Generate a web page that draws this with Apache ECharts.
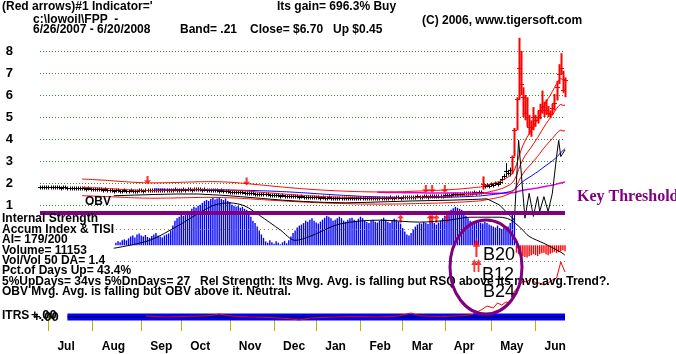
<!DOCTYPE html>
<html><head><meta charset="utf-8">
<script src="https://cdn.jsdelivr.net/npm/echarts@6/dist/echarts.min.js"></script>
<style>html,body{margin:0;padding:0;background:#fff}#c{width:676px;height:354px}</style>
</head><body><div id="c"></div>
<script>
// ---------- data ----------
const monthStarts = [4,25,48,67,90,111,131,152,172,192,214,235];
const monthLabels = ['Jul','Aug','Sep','Oct','Nov','Dec','Jan','Feb','Mar','Apr','May','Jun'];
const priceTicks = [1,2,3,4,5,6,7,8];
const bandWidth = 0.21;

// daily closes 6/26/2007 .. 6/20/2008
const closes = [
 1.83,1.84,1.82,1.83,1.82,1.81,1.82,1.80,1.81,1.80,1.79,1.80,1.81,1.79,1.78,1.79,1.78,1.77,1.78,1.76,1.77,1.76,1.75,1.76,1.74,
 1.73,1.74,1.72,1.71,1.72,1.70,1.71,1.69,1.68,1.66,1.65,1.67,1.66,1.64,1.65,1.66,1.65,1.64,1.66,1.65,1.64,1.65,1.66,
 1.66,1.65,1.67,1.66,1.68,1.67,1.66,1.68,1.69,1.68,1.67,1.68,1.70,1.69,1.68,1.70,1.71,1.70,1.69,
 1.70,1.71,1.70,1.72,1.71,1.70,1.72,1.73,1.72,1.71,1.70,1.71,1.69,1.70,1.68,1.67,1.68,1.66,1.65,1.66,1.64,1.63,1.62,
 1.61,1.60,1.61,1.59,1.58,1.57,1.58,1.56,1.55,1.54,1.55,1.53,1.52,1.51,1.52,1.50,1.49,1.48,1.49,1.47,1.46,
 1.45,1.46,1.44,1.43,1.44,1.42,1.41,1.42,1.40,1.41,1.39,1.40,1.38,1.39,1.38,1.37,1.38,1.36,1.37,1.36,
 1.35,1.36,1.34,1.35,1.33,1.34,1.35,1.33,1.32,1.34,1.33,1.31,1.32,1.33,1.32,1.31,1.33,1.32,1.30,1.31,1.32,
 1.31,1.30,1.32,1.31,1.30,1.31,1.33,1.32,1.31,1.33,1.34,1.32,1.33,1.34,1.35,1.33,1.34,1.35,1.36,1.34,
 1.35,1.37,1.36,1.38,1.37,1.36,1.38,1.39,1.37,1.38,1.40,1.39,1.38,1.40,1.41,1.39,1.40,1.42,1.41,1.43,
 1.44,1.45,1.47,1.46,1.48,1.50,1.49,1.52,1.51,1.53,1.55,1.54,1.56,1.55,1.57,1.56,1.58,1.60,1.95,1.85,1.90,1.88,
 1.95,1.90,2.00,1.95,2.05,2.20,2.30,2.55,2.45,2.60,3.20,4.40,5.80,7.25,6.50,5.90,5.20,5.00,4.55,4.55,5.00,
 4.85,5.00,5.30,5.45,5.30,5.30,5.20,5.15,5.40,5.65,6.35,6.95,7.25,6.25,6.70
];
// daily lows / highs of the last 50 sessions (earlier bars are too small to read)
const recentStart = 200;
const recentLow = [
 1.48,1.50,1.51,1.51,1.52,1.52,1.53,1.53,1.54,1.56,1.70,1.78,1.82,1.80,1.85,1.84,1.90,1.88,1.95,2.10,
 2.20,2.30,2.35,2.30,2.40,3.20,4.40,5.80,6.00,5.00,4.85,4.55,4.20,4.10,4.40,4.55,4.70,4.90,5.15,5.00,
 5.10,5.00,4.95,5.10,5.30,5.75,6.50,6.95,6.10,5.90
];
const recentHigh = [
 1.55,1.57,1.59,1.58,1.60,1.59,1.61,1.60,1.63,1.65,2.30,1.95,1.98,1.96,2.02,1.98,2.06,2.02,2.12,2.30,
 2.42,2.90,2.60,2.70,3.20,4.50,5.90,8.60,8.00,6.35,6.00,5.90,5.10,4.85,5.45,5.10,5.30,5.60,6.20,5.70,
 5.80,5.50,5.30,5.60,6.05,6.65,7.40,7.90,7.10,6.80
];
// OBV line drawn in the price panel: [session, level]
const obvPoints = [
 [35,1.42],[45,1.45],[55,1.48],[65,1.50],[75,1.50],[85,1.45],[95,1.38],[105,1.30],[115,1.22],[125,1.16],
 [135,1.12],[145,1.10],[155,1.12],[165,1.15],[175,1.18],[185,1.20],[195,1.22],[205,1.25],[212,1.28],
 [218,1.00],[222,0.60],[225,0.32],[227,3.94],[230,0.40],[232,1.53],[234,0.48],[236,1.38],[237,0.70],
 [239,1.38],[241,0.70],[243,1.53],[245,3.20],[246,3.94],[247,3.20],[249,3.50]
];
// Accumulation index bars, from session 36
const aiStart = 36;
const aiValues = [
 0.05,0.08,0.06,0.10,0.12,0.10,
 0.14,0.18,0.20,0.16,0.22,0.24,0.20,0.18,0.21,0.17,0.15,0.19,0.22,0.25,0.20,0.18,0.16,0.20,0.22,0.24,
 0.30,0.40,0.50,0.55,
 0.58,0.62,0.60,0.66,0.70,0.68,0.74,0.78,0.76,0.80,0.82,
 0.86,0.90,0.92,0.90,0.94,0.96,0.93,0.95,0.97,0.94,0.92,0.95,0.90,0.88,
 0.82,0.80,0.78,0.80,0.76,0.78,0.74,0.72,
 0.65,0.58,0.50,0.45,0.38,0.30,0.22,
 0.15,0.08,0.05,0.10,0.06,0.03,0.08,0.05,0.02,0.06,0.09,0.04,0.10,
 0.18,0.25,0.30,0.36,0.40,
 0.42,0.45,0.50,0.48,0.52,0.55,0.50,0.46,0.44,0.48,0.52,0.56,0.60,0.58,0.55,0.50,0.52,0.55,0.58,0.55,0.50,0.48,0.52,0.55,
 0.56,0.52,0.50,0.54,0.58,0.55,0.50,0.47,0.45,0.50,0.52,0.48,0.46,0.50,0.53,0.56,0.52,0.48,0.45,0.50,0.54,0.52,0.48,0.44,
 0.35,0.28,0.22,0.20,0.25,0.32,0.38,
 0.42,0.45,0.44,0.47,0.45,0.43,0.46,0.48,0.45,0.42,0.46,0.50,0.55,0.60,0.65,0.70,
 0.72,0.75,0.78,0.76,0.74,0.72,0.65,0.60,0.55,
 0.50,0.48,0.45,0.47,0.50,0.46,0.44,0.48,0.45,0.42,0.40,
 0.38,0.36,0.40,0.35,0.33,0.36,0.34,0.38,0.45,
 0.62,0.55,
 -0.15,-0.18,-0.20,-0.22,-0.24,-0.25,-0.22,-0.20,-0.18,-0.20,-0.22,-0.18,-0.16,-0.15,-0.18,-0.20,-0.17,-0.15,-0.13,-0.16,-0.14,-0.12,-0.10,-0.12
];
const aiThreshold = 0.655;
const aiGuides = [0.33, -0.32];
// TISI line: [session, value]
const tisiPoints = [
 [35,-0.06],[52,0.10],[66,0.41],[76,0.67],[83,0.82],[90,0.86],[97,0.80],[104,0.61],[114,0.31],[121,0.10],
 [128,0.18],[142,0.43],[161,0.51],[180,0.47],[194,0.51],[204,0.57],[218,0.57],[223,0.52],[228,0.35],
 [232,0.18],[239,0.04],[247,-0.14],[249,-0.20]
];
// ITRS line: [session, value]
const itrsStart = 13;
const itrsPoints = [
 [50,0.05],[60,0.00],[70,0.03],[80,0.06],[85,0.15],[90,0.05],[100,0.00],[110,-0.03],[118,-0.08],[123,-0.15],
 [128,-0.05],[140,0.00],[150,0.02],[160,0.00],[170,0.05],[176,0.20],[180,0.06],[190,0.02],[200,0.06],[205,0.12],
 [210,0.40],[212,0.55],[215,0.45],[217,0.70],[219,0.60],[221,0.75],[223,0.70],[225,1.30],[227,1.50],[229,1.80],
 [231,1.75],[233,1.95],[235,1.70],[237,1.70],[239,1.60],[241,1.70],[243,1.85],[245,1.95],[247,2.75],[249,2.25]
];
// signals
const sellSignals = [[51,2.14],[98,2.07],[183,1.73],[186,1.73],[192,1.73]];
const buySignals = [[171,0.54],[185,0.54],[186,0.54],[188,0.54],[193,0.54]];
const bigBuySignals = [[207,3.48]];
const doubleBuySignals = [[206,2.58],[208,2.58]];
const redBarFrom = 224, redBarExtra = [210];

// ---------- derived ----------
const cats = closes.map((_, i) => String(i));
function ma(src, n, first) {
  return src.map((v, i) => {
    if (i < first) return null;
    const s = src.slice(Math.max(0, i - n + 1), i + 1);
    return s.reduce((a, b) => a + b, 0) / s.length;
  });
}
const ma21 = ma(closes, 21, 20);
const upperBand = ma21.map(v => v == null ? null : v * (1 + bandWidth));
const lowerBand = ma21.map(v => v == null ? null : v * (1 - bandWidth));
const ma55 = ma(closes, 55, 54);
const ma200 = ma(closes, 200, 160);
const ohlc = closes.map((c, i) => {
  const r = i - recentStart;
  return [i, r >= 0 ? recentLow[r] : c, r >= 0 ? recentHigh[r] : c, c];
});
const aiFull = closes.map((_, i) => i < aiStart ? null : aiValues[i - aiStart]);
const itrsBase = closes.map((_, i) => i < itrsStart ? null : 0);

const FONT = '"Liberation Sans", Arial, sans-serif';
const ARROW = 'path://M5,0L10,6L6.5,6L6.5,13L3.5,13L3.5,6L0,6Z';

function T(text, x, y, extra) {
  return {type: 'text', z: 50, silent: true,
    style: Object.assign({text: text, x: x, y: y, font: 'bold 12px ' + FONT, fill: '#000', verticalAlign: 'middle'}, extra || {})};
}

const chart = echarts.init(document.getElementById('c'), null, {renderer: 'canvas'});
const lineBase = {type: 'line', showSymbol: false, symbol: 'none', silent: true, clip: false, animation: false};

chart.setOption({
  animation: false,
  backgroundColor: '#fff',
  grid: [
    {left: 40, width: 525, top: 51, height: 154, outerBoundsMode: 'none'},
    {left: 40, width: 525, top: 196, height: 69, outerBoundsMode: 'none'},
    {left: 40, width: 525, top: 247, height: 80, outerBoundsMode: 'none'}
  ],
  xAxis: [
    {gridIndex: 0, type: 'category', data: cats, boundaryGap: false, show: false},
    {gridIndex: 1, type: 'category', data: cats, boundaryGap: false, show: false},
    {gridIndex: 2, type: 'category', data: cats, boundaryGap: false, position: 'bottom', offset: 11,
      axisLine: {show: false},
      axisTick: {show: true, interval: (i) => monthStarts.includes(i), length: 14, lineStyle: {color: '#b5b500', width: 1}},
      axisLabel: {show: true, interval: (i) => monthStarts.includes(i),
        formatter: (v, i) => monthLabels[monthStarts.indexOf(i)] || '',
        align: 'left', padding: [0, 0, 0, 9], margin: 3, fontWeight: 'bold', fontSize: 12, color: '#000', fontFamily: FONT},
      splitLine: {show: false}}
  ],
  yAxis: [
    {gridIndex: 0, type: 'value', min: priceTicks[0], max: priceTicks[priceTicks.length - 1], interval: 1,
      axisLine: {show: false}, axisTick: {show: false},
      axisLabel: {margin: 27, fontWeight: 'bold', fontSize: 13, color: '#000', fontFamily: FONT},
      splitLine: {show: true, lineStyle: {color: '#2f8f2f', type: [1, 2], width: 1}}},
    {gridIndex: 1, type: 'value', min: -0.4, max: 1.0, show: false, splitLine: {show: false}},
    {gridIndex: 2, type: 'value', min: -0.5, max: 3.5, show: false, splitLine: {show: false}}
  ],
  series: [
    // price panel
    Object.assign({}, lineBase, {name: 'ma200', xAxisIndex: 0, yAxisIndex: 0, data: ma200, lineStyle: {color: '#e000e0', width: 1.5}}),
    Object.assign({}, lineBase, {name: 'ma55', xAxisIndex: 0, yAxisIndex: 0, data: ma55, lineStyle: {color: '#0000ff', width: 1}}),
    Object.assign({}, lineBase, {name: 'upper', xAxisIndex: 0, yAxisIndex: 0, data: upperBand, lineStyle: {color: '#ff0000', width: 1}}),
    Object.assign({}, lineBase, {name: 'ma21', xAxisIndex: 0, yAxisIndex: 0, data: ma21, lineStyle: {color: '#ff0000', width: 1}}),
    Object.assign({}, lineBase, {name: 'lower', xAxisIndex: 0, yAxisIndex: 0, data: lowerBand, lineStyle: {color: '#ff0000', width: 1}}),
    Object.assign({}, lineBase, {name: 'obv', xAxisIndex: 0, yAxisIndex: 0, data: obvPoints, lineStyle: {color: '#000', width: 1}}),
    {type: 'custom', name: 'price', xAxisIndex: 0, yAxisIndex: 0, silent: true, clip: false,
      encode: {x: 0, y: [1, 2, 3]}, data: ohlc,
      renderItem: function (params, api) {
        const i = api.value(0), lo = api.value(1), hi = api.value(2), c = api.value(3);
        const pLo = api.coord([i, lo]), pHi = api.coord([i, hi]), pC = api.coord([i, c]);
        const red = i >= redBarFrom || redBarExtra.includes(i);
        const color = red ? '#ff0000' : '#000000';
        const x = Math.round(pC[0]) + 0.5;
        const cy = Math.round(pC[1]) + 0.5;
        const top = Math.min(pHi[1], cy - 2), bot = Math.max(pLo[1], cy + 2);
        return {type: 'group', children: [
          {type: 'line', shape: {x1: x, y1: top, x2: x, y2: bot}, style: {stroke: color, lineWidth: red ? 2 : 1}},
          {type: 'line', shape: {x1: x - 2.5, y1: cy, x2: x + 2.5, y2: cy}, style: {stroke: color, lineWidth: 1}}
        ]};
      }},
    {type: 'scatter', name: 'sell', xAxisIndex: 0, yAxisIndex: 0, silent: true, clip: false, data: sellSignals,
      symbol: ARROW, symbolSize: [7, 8], symbolRotate: 180, itemStyle: {color: '#ff0000'}},
    // accumulation panel
    {type: 'bar', name: 'ai', xAxisIndex: 1, yAxisIndex: 1, silent: true, data: aiFull, barWidth: 1.4,
      itemStyle: {color: (p) => p.value < 0 ? '#ff0000' : '#0000ff'},
      markLine: {silent: true, symbol: 'none', label: {show: false},
        data: [
          [{coord: [aiStart, aiGuides[0]], lineStyle: {color: '#777', type: [1, 3], width: 1}}, {coord: [closes.length - 1, aiGuides[0]]}],
          [{coord: [aiStart, aiGuides[1]], lineStyle: {color: '#777', type: [1, 3], width: 1}}, {coord: [closes.length - 1, aiGuides[1]]}],
          {yAxis: aiThreshold, lineStyle: {color: '#800080', width: 4, type: 'solid'}}
        ]}},
    Object.assign({}, lineBase, {name: 'tisi', xAxisIndex: 1, yAxisIndex: 1, data: tisiPoints, smooth: 0.3, lineStyle: {color: '#000', width: 1}}),
    {type: 'scatter', name: 'buy', xAxisIndex: 1, yAxisIndex: 1, silent: true, clip: false, data: buySignals,
      symbol: ARROW, symbolSize: [7, 8], itemStyle: {color: '#ff0000'}},
    // ITRS panel
    Object.assign({}, lineBase, {name: 'itrsBand', xAxisIndex: 2, yAxisIndex: 2, data: itrsBase, lineStyle: {color: '#0000ff', width: 7, cap: 'butt'}}),
    Object.assign({}, lineBase, {name: 'itrsZero', xAxisIndex: 2, yAxisIndex: 2, data: itrsBase, lineStyle: {color: '#000', width: 1}}),
    Object.assign({}, lineBase, {name: 'itrs', xAxisIndex: 2, yAxisIndex: 2, data: itrsPoints, lineStyle: {color: '#ff0000', width: 1}}),
    {type: 'scatter', name: 'bigBuy', xAxisIndex: 2, yAxisIndex: 2, silent: true, clip: false, data: bigBuySignals,
      symbol: ARROW, symbolSize: [7, 19], itemStyle: {color: '#ff0000'}},
    {type: 'scatter', name: 'dblBuy', xAxisIndex: 2, yAxisIndex: 2, silent: true, clip: false, data: doubleBuySignals,
      symbol: ARROW, symbolSize: [6, 13], itemStyle: {color: '#ff0000'}}
  ],
  graphic: [
    T("(Red arrows)#1 Indicator='", 2, 7),
    T('Its gain= 696.3% Buy', 277, 7),
    T('c:\\lowoil\\FPP  -', 33, 20),
    T('6/26/2007 - 6/20/2008', 33, 30),
    T('Band= .21', 180, 30),
    T('Close= $6.70', 250, 30),
    T('Up $0.45', 333, 30),
    T('(C) 2006, www.tigersoft.com', 422, 21),
    T('OBV', 85, 202),
    T('Internal Strength', 2, 219),
    T('Accum Index & TISI', 2, 230),
    T('AI= 179/200', 2, 240),
    T('Volume= 11153', 2, 251),
    T('Vol/Vol 50 DA= 1.4', 2, 261),
    T('Pct.of Days Up= 43.4%', 2, 271),
    T('5%UpDays= 34vs 5%DnDays= 27', 2, 282),
    T('Rel Strength: Its Mvg. Avg. is falling but RSQ above its mvg.avg.Trend?.', 200, 282),
    T('OBV Mvg. Avg. is falling but OBV above it. Neutral.', 2, 292),
    T('ITRS', 2, 316),
    T('+.00', 31, 315, {font: 'bold 13px ' + FONT}),
    T('+.00', 33, 317, {font: 'bold 13px ' + FONT}),
    T('Key Threshold', 577, 197, {font: 'bold 16px "Liberation Serif", "Times New Roman", serif', fill: '#800080'}),
    T('B20', 483, 255, {font: '18px ' + FONT}),
    T('B12', 482, 275, {font: '18px ' + FONT}),
    T('B24', 483, 292, {font: '18px ' + FONT}),
    {type: 'ellipse', z: 60, silent: true, shape: {cx: 486, cy: 267, rx: 36, ry: 47},
      style: {fill: null, stroke: '#800080', lineWidth: 3}}
  ]
});
</script>
</body></html>
